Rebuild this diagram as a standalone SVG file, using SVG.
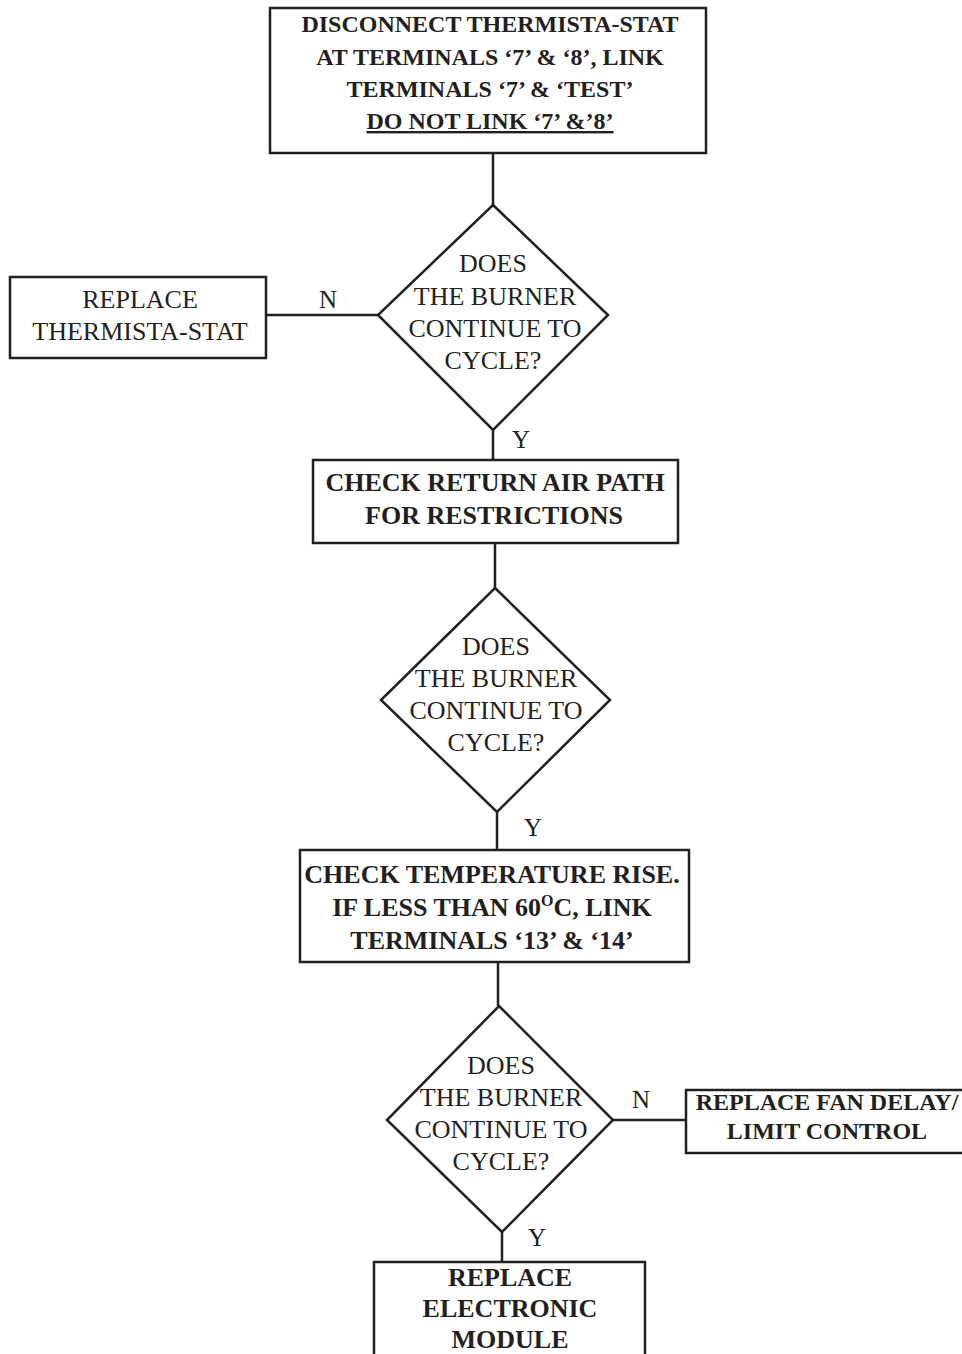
<svg xmlns="http://www.w3.org/2000/svg" width="962" height="1354" viewBox="0 0 962 1354">
<style>
.box{fill:#fff;stroke:#231f20;stroke-width:2.5}
.con{stroke:#231f20;stroke-width:2.5;fill:none}
.b{font-family:"Liberation Serif",serif;font-weight:bold;font-size:26px;fill:#231f20;text-anchor:middle}
.b24{font-size:24px}
.r{font-family:"Liberation Serif",serif;font-size:26px;fill:#231f20;text-anchor:middle}
.lbl{font-family:"Liberation Serif",serif;font-size:25px;fill:#231f20;text-anchor:middle}
.sup{font-size:16px}
</style>
<rect width="962" height="1354" fill="#fff"/>
<g id="connectors">
<line class="con" x1="493" y1="153" x2="493" y2="205"/>
<line class="con" x1="266" y1="315" x2="378" y2="315"/>
<line class="con" x1="493" y1="430" x2="493" y2="460"/>
<line class="con" x1="495" y1="543" x2="495" y2="588"/>
<line class="con" x1="497" y1="812" x2="497" y2="850"/>
<line class="con" x1="498" y1="962" x2="498" y2="1006"/>
<line class="con" x1="613" y1="1120" x2="686" y2="1120"/>
<line class="con" x1="502" y1="1232" x2="502" y2="1262"/>
<text class="lbl" x="328" y="308">N</text>
<text class="lbl" x="521" y="448">Y</text>
<text class="lbl" x="533" y="836">Y</text>
<text class="lbl" x="641" y="1108">N</text>
<text class="lbl" x="537" y="1246">Y</text>
</g>
<g id="n1">
<rect class="box" x="270" y="8" width="436" height="145"/>
<text class="b b24" x="490" y="32">DISCONNECT THERMISTA-STAT</text>
<text class="b b24" x="490" y="65">AT TERMINALS ‘7’ &amp; ‘8’, LINK</text>
<text class="b b24" x="490" y="97">TERMINALS ‘7’ &amp; ‘TEST’</text>
<text class="b b24" x="490" y="129" text-decoration="underline">DO NOT LINK ‘7’ &amp;’8’</text>
</g>
<g id="d1">
<polygon class="box" points="493,205 608,315 493,430 378,315"/>
<text class="r" x="493" y="272">DOES</text>
<text class="r" x="495" y="305">THE BURNER</text>
<text class="r" x="495" y="337">CONTINUE TO</text>
<text class="r" x="493" y="369">CYCLE?</text>
</g>
<g id="n2">
<rect class="box" x="10" y="277" width="256" height="81"/>
<text class="r" x="140" y="308">REPLACE</text>
<text class="r" x="140" y="340">THERMISTA-STAT</text>
</g>
<g id="n3">
<rect class="box" x="313" y="460" width="365" height="83"/>
<text class="b" x="495" y="491">CHECK RETURN AIR PATH</text>
<text class="b" x="494" y="524">FOR RESTRICTIONS</text>
</g>
<g id="d2">
<polygon class="box" points="495,588 610,700 497,812 381,700"/>
<text class="r" x="496" y="655">DOES</text>
<text class="r" x="496" y="687">THE BURNER</text>
<text class="r" x="496" y="719">CONTINUE TO</text>
<text class="r" x="496" y="751">CYCLE?</text>
</g>
<g id="n4">
<rect class="box" x="300" y="850" width="389" height="112"/>
<text class="b" x="492" y="883">CHECK TEMPERATURE RISE.</text>
<text class="b" x="492" y="916">IF LESS THAN 60<tspan class="sup" dy="-10">O</tspan><tspan dy="10">C, LINK</tspan></text>
<text class="b" x="492" y="949">TERMINALS ‘13’ &amp; ‘14’</text>
</g>
<g id="d3">
<polygon class="box" points="499,1006 613,1120 502,1232 387,1120"/>
<text class="r" x="501" y="1074">DOES</text>
<text class="r" x="501" y="1106">THE BURNER</text>
<text class="r" x="501" y="1138">CONTINUE TO</text>
<text class="r" x="501" y="1170">CYCLE?</text>
</g>
<g id="n5">
<rect class="box" x="686" y="1090" width="290" height="63"/>
<text class="b b24" x="827" y="1110">REPLACE FAN DELAY/</text>
<text class="b b24" x="827" y="1139">LIMIT CONTROL</text>
</g>
<g id="n6">
<rect class="box" x="374" y="1262" width="271" height="110"/>
<text class="b" x="510" y="1286">REPLACE</text>
<text class="b" x="510" y="1317">ELECTRONIC</text>
<text class="b" x="510" y="1348">MODULE</text>
</g>
</svg>
